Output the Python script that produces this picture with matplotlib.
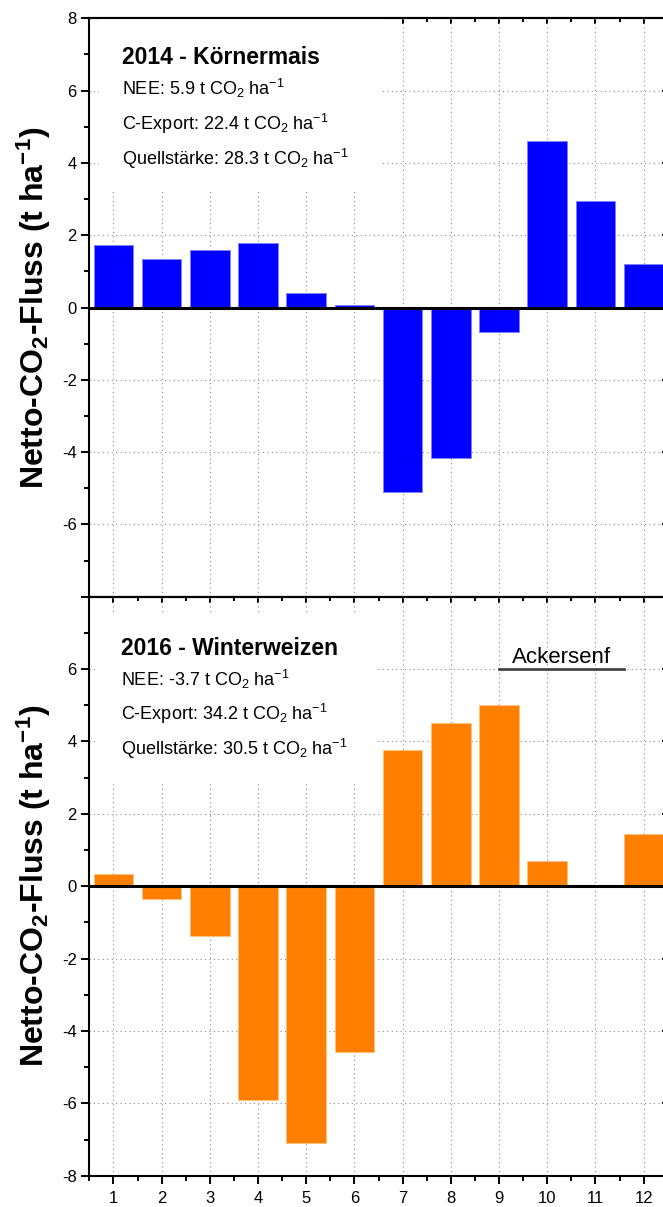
import numpy as np
import matplotlib.pyplot as plt
from matplotlib.patches import Rectangle
from matplotlib.ticker import MultipleLocator, FixedLocator

plt.rcParams['font.family'] = ['Liberation Sans', 'DejaVu Sans']
plt.rcParams['mathtext.fontset'] = 'custom'
plt.rcParams['mathtext.rm'] = 'Liberation Sans'
plt.rcParams['mathtext.it'] = 'Liberation Sans:italic'
plt.rcParams['mathtext.bf'] = 'Liberation Sans:bold'
plt.rcParams['axes.unicode_minus'] = False

# monthly net CO2 flux (t ha-1)
months = np.arange(1, 13)
flux_2014 = [1.73, 1.34, 1.60, 1.79, 0.40, 0.07, -5.10, -4.15, -0.69, 4.60, 2.94, 1.21]
flux_2016 = [0.33, -0.35, -1.38, -5.92, -7.09, -4.58, 3.76, 4.51, 5.01, 0.69, 0.04, 1.45]

titles = ["2014 - Körnermais", "2016 - Winterweizen"]
nee = ["5.9", "-3.7"]
c_export = ["22.4", "34.2"]
quelle = ["28.3", "30.5"]
colors = ["#0000FF", "#FF8000"]
edges = ["#7f7fff", "#ffc27f"]

# catch crop period in 2016
senf_months = [9, 11.6]
senf_level = 6

ylab = r"Netto-CO$_\mathbf{2}$-Fluss (t ha$^\mathbf{-1}$)"

fig = plt.figure(figsize=(6.63, 12.07), dpi=100)
ax_top = fig.add_axes([0.1347, 0.5056, 0.8724, 0.4792])
ax_bot = fig.add_axes([0.1347, 0.0259, 0.8724, 0.4797])


def style_axis(ax, ylabels):
    ax.set_xlim(0.5, 12.5)
    ax.set_ylim(-8, 8)
    ax.set_yticks(range(-8, 9, 2))
    ax.set_yticklabels(ylabels, fontsize=12)
    ax.yaxis.set_minor_locator(MultipleLocator(1))
    ax.set_xticks(months)
    ax.set_xticklabels([str(m) for m in months], fontsize=12)
    ax.xaxis.set_minor_locator(FixedLocator(np.arange(0.5, 13, 1)))
    ax.tick_params(axis='y', which='major', direction='out', length=6, width=1.4, pad=3)
    ax.tick_params(axis='y', which='minor', direction='out', length=3.5, width=1.4)
    ax.tick_params(axis='x', which='major', direction='out', length=6, width=1.4, pad=5)
    ax.tick_params(axis='x', which='minor', direction='out', length=3.5, width=1.4)
    for sp in ax.spines.values():
        sp.set_linewidth(1.5)
    ax.grid(True, which='major', linestyle=(0, (1, 3)), color='#8c8c8c', linewidth=0.8)
    ax.set_axisbelow(True)

    # inward ticks on top and right
    top = ax.secondary_xaxis('top')
    top.set_xticks(months)
    top.xaxis.set_minor_locator(FixedLocator(np.arange(0.5, 13, 1)))
    top.tick_params(which='major', direction='in', length=4.5, width=1.4, labeltop=False)
    top.tick_params(which='minor', direction='in', length=3, width=1.4)
    top.spines['top'].set_linewidth(1.5)
    right = ax.secondary_yaxis('right')
    right.set_yticks(range(-8, 9, 2))
    right.yaxis.set_minor_locator(MultipleLocator(1))
    right.tick_params(which='major', direction='in', length=4.5, width=1.4, labelright=False)
    right.tick_params(which='minor', direction='in', length=3, width=1.4)

    ax.axhline(0, color='black', linewidth=2.2, zorder=3)
    ax.set_ylabel(ylab, fontsize=23, fontweight='bold')
    ax.yaxis.set_label_coords(-0.062, 0.5)


style_axis(ax_top, ['' if v == -8 else str(v) for v in range(-8, 9, 2)])
style_axis(ax_bot, ['' if v == 8 else str(v) for v in range(-8, 9, 2)])
ax_top.tick_params(axis='x', which='both', bottom=False, labelbottom=False)

# white text areas hiding the grid
ax_top.add_patch(Rectangle((0.017, 0.705), 0.491, 0.295, transform=ax_top.transAxes,
                           facecolor='white', edgecolor='none', zorder=1))
ax_bot.add_patch(Rectangle((0.013, 0.68), 0.486, 0.292, transform=ax_bot.transAxes,
                           facecolor='white', edgecolor='none', zorder=1))

ax_top.bar(months, flux_2014, width=0.82, color=colors[0], edgecolor=edges[0],
           linewidth=0.7, zorder=2)
ax_bot.bar(months, flux_2016, width=0.82, color=colors[1], edgecolor=edges[1],
           linewidth=0.7, zorder=2)

text_pos = [(0.0565, [0.921, 0.867, 0.807, 0.746]),
            (0.055, [0.899, 0.846, 0.787, 0.726])]
for ax, i in [(ax_top, 0), (ax_bot, 1)]:
    x0, ys = text_pos[i]
    ax.text(x0, ys[0], titles[i], transform=ax.transAxes, fontsize=16.5,
            fontweight='bold', va='baseline', zorder=4)
    lines = [f"NEE: {nee[i]} t CO$_2$ ha$^{{-1}}$",
             f"C-Export: {c_export[i]} t CO$_2$ ha$^{{-1}}$",
             f"Quellstärke: {quelle[i]} t CO$_2$ ha$^{{-1}}$"]
    for line, y in zip(lines, ys[1:]):
        ax.text(x0, y, line, transform=ax.transAxes, fontsize=13,
                va='baseline', zorder=4)

ax_bot.plot(senf_months, [senf_level, senf_level], color='#444444', linewidth=2, zorder=3)
ax_bot.text(np.mean(senf_months), senf_level + 0.18, "Ackersenf", fontsize=16,
            ha='center', va='baseline', zorder=4)

fig.savefig("out.png", dpi=100)
